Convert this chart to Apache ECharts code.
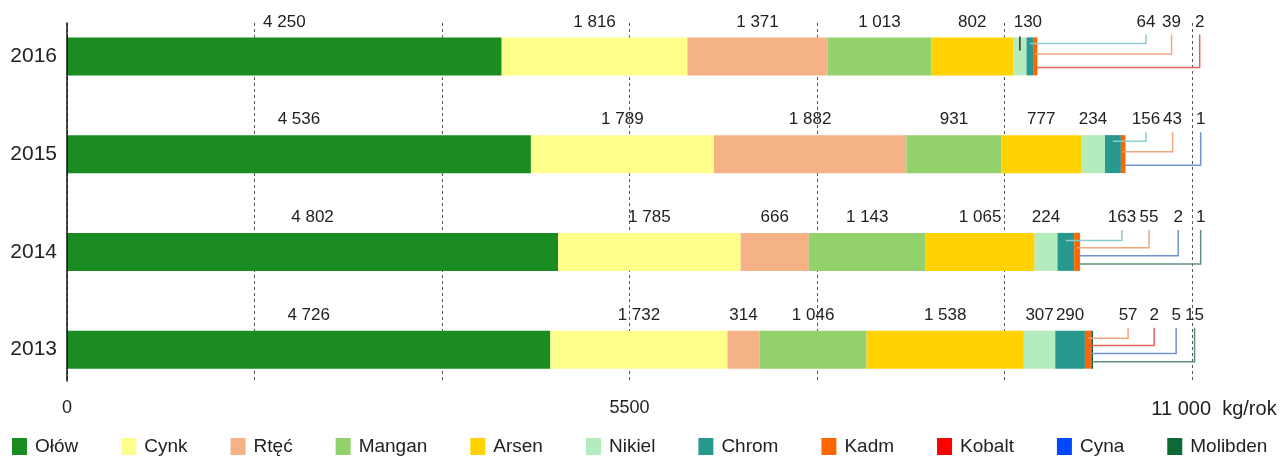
<!DOCTYPE html>
<html>
<head>
<meta charset="utf-8">
<script src="https://cdn.jsdelivr.net/npm/echarts@6/dist/echarts.min.js"></script>
<style>
  html, body { margin: 0; padding: 0; background: #fff; }
  #chart { width: 1282px; height: 464px; }
</style>
</head>
<body>
<div id="chart"></div>
<script>
// emisje metali ciężkich, kg/rok
const years = ["2013", "2014", "2015", "2016"];
const metals = ["Ołów", "Cynk", "Rtęć", "Mangan", "Arsen", "Nikiel", "Chrom", "Kadm", "Kobalt", "Cyna", "Molibden"];
const olow = [4726, 4802, 4536, 4250];
const cynk = [1732, 1785, 1789, 1816];
const rtec = [314, 666, 1882, 1371];
const mangan = [1046, 1143, 931, 1013];
const arsen = [1538, 1065, 777, 802];
const nikiel = [307, 224, 234, 130];
const chrom = [290, 163, 156, 64];
const kadm = [57, 55, 43, 39];
const kobalt = [2, 0, 0, 2];
const cyna = [5, 2, 1, 0];
const molibden = [15, 1, 0, 0];
const axisMax = 11000;
const axisLabels = [0, 5500, 11000];

const values = [olow, cynk, rtec, mangan, arsen, nikiel, chrom, kadm, kobalt, cyna, molibden];

// wygląd
const colors = ["#1a8c22", "#ffff8c", "#f5b286", "#93d16c", "#ffd200", "#b5ecbd", "#28998f", "#ff6600", "#ff0000", "#0047ff", "#0b6a36"];
const leaderColors = ["", "", "", "", "", "", "#8ccccc", "#f2a680", "#e2655c", "#7391d6", "#5c9275"];
const font = "Arial, 'Liberation Sans', sans-serif";
const barH = 38;
// gdzie stoją etykiety z odnośnikami (w jednostkach osi X)
const leaderAt = [
  [10375, 10630, 10845, 11025],
  [10315, 10580, 10865, 11085],
  [10550, 10810, 11085],
  [10550, 10800, 11075]
];
const leaderFrac = { 3: [0.16, 0.44, 0.79], 4: [0.2, 0.39, 0.6, 0.82] };

function fmt(v) {
  return String(v).replace(/\B(?=(\d{3})+(?!\d))/g, " ");
}
function isLeader(si, v) {
  return si >= 6 && v > 0 && v < 200;
}

// elementy z odnośnikami
const leaderData = [];
years.forEach((y, row) => {
  let acc = 0;
  const items = [];
  values.forEach((arr, si) => {
    const v = arr[row];
    if (isLeader(si, v)) items.push([acc, acc + v, row, 0, 0, si, v]);
    acc += v;
  });
  items.forEach((it, k) => {
    it[3] = leaderAt[row][k];
    it[4] = leaderFrac[items.length][k];
    leaderData.push(it);
  });
});

// kreska przy etykiecie Niklu 2016
const tickData = [];
years.forEach((y, row) => {
  const v = nikiel[row];
  if (v < 200) {
    const start = olow[row] + cynk[row] + rtec[row] + mangan[row] + arsen[row];
    tickData.push([start, start + v, row]);
  }
});

const barSeries = metals.map((name, si) => ({
  name: name,
  type: "bar",
  stack: "total",
  xAxisIndex: 1,
  yAxisIndex: 1,
  barWidth: barH,
  itemStyle: { color: colors[si] },
  label: {
    show: true,
    position: "top",
    distance: 7,
    fontSize: 17,
    fontFamily: font,
    color: "#222",
    formatter: p => (p.value > 0 && !isLeader(si, p.value) ? fmt(p.value) : "")
  },
  data: values[si].map(v => (si === 5 && v < 200 ? { value: v, label: { offset: [8, 0] } } : v))
}));

const chart = echarts.init(document.getElementById("chart"));
chart.setOption({
  animation: false,
  color: colors,
  grid: [
    { left: 67, right: 90, top: 23, height: 358, outerBoundsMode: "none" },
    { left: 67, right: 90, top: 7.5, height: 391, outerBoundsMode: "none" }
  ],
  legend: {
    data: metals,
    bottom: 8,
    left: 12,
    width: 1270,
    padding: 0,
    icon: "rect",
    itemWidth: 15,
    itemHeight: 17,
    itemGap: 43,
    textStyle: { fontSize: 19, fontFamily: font, color: "#222", padding: [0, 0, 0, 3] }
  },
  xAxis: [
    {
      gridIndex: 0,
      type: "value",
      min: 0,
      max: axisMax,
      interval: axisMax / 6,
      axisLine: { show: false },
      axisTick: { show: false },
      splitLine: { show: true, lineStyle: { type: [3, 3], color: "#555", width: 1 } },
      axisLabel: {
        margin: 18,
        fontSize: 18,
        fontFamily: font,
        color: "#222",
        customValues: axisLabels,
        formatter: v => {
          if (v === axisMax) return "{u|" + fmt(v) + "  kg/rok}";
          return String(v);
        },
        rich: { u: { fontSize: 20, fontFamily: font, color: "#222", padding: [0, 0, 0, 44] } }
      }
    },
    {
      gridIndex: 1,
      type: "value",
      min: 0,
      max: axisMax,
      show: false
    }
  ],
  yAxis: [
    {
      gridIndex: 0,
      type: "value",
      min: 0,
      max: 1,
      z: 5,
      axisLine: { show: true, lineStyle: { color: "#111", width: 1.5 } },
      axisTick: { show: false },
      axisLabel: { show: false },
      splitLine: { show: false }
    },
    {
      gridIndex: 1,
      type: "category",
      data: years,
      axisLine: { show: false },
      axisTick: { show: false },
      axisLabel: { margin: 10, fontSize: 21, fontFamily: font, color: "#222" }
    }
  ],
  series: barSeries.concat([
    {
      type: "custom",
      name: "odnośniki",
      xAxisIndex: 1,
      yAxisIndex: 1,
      z: 4,
      clip: false,
      silent: true,
      encode: { x: [0, 1, 3], y: 2 },
      data: leaderData,
      renderItem: (params, api) => {
        const s = api.value(0), e = api.value(1), row = api.value(2);
        const mid = api.coord([(s + e) / 2, row]);
        const tip = api.coord([api.value(3), row]);
        const top = mid[1] - barH / 2;
        const y = top + api.value(4) * barH;
        return {
          type: "group",
          children: [
            {
              type: "polyline",
              shape: { points: [[mid[0], y], [tip[0], y], [tip[0], top - 3]] },
              style: { stroke: leaderColors[api.value(5)], lineWidth: 1.5, fill: null }
            },
            {
              type: "text",
              x: tip[0],
              y: top - 7,
              style: {
                text: fmt(api.value(6)),
                align: "center",
                verticalAlign: "bottom",
                fontSize: 17,
                fontFamily: font,
                fill: "#222"
              }
            }
          ]
        };
      }
    },
    {
      type: "custom",
      name: "kreska",
      xAxisIndex: 1,
      yAxisIndex: 1,
      z: 4,
      clip: false,
      silent: true,
      encode: { x: [0, 1], y: 2 },
      data: tickData,
      renderItem: (params, api) => {
        const mid = api.coord([(api.value(0) + api.value(1)) / 2, api.value(2)]);
        const top = mid[1] - barH / 2;
        return {
          type: "line",
          shape: { x1: mid[0], y1: top - 1, x2: mid[0], y2: top + 13 },
          style: { stroke: "#333", lineWidth: 1.5 }
        };
      }
    }
  ])
});
</script>
</body>
</html>
